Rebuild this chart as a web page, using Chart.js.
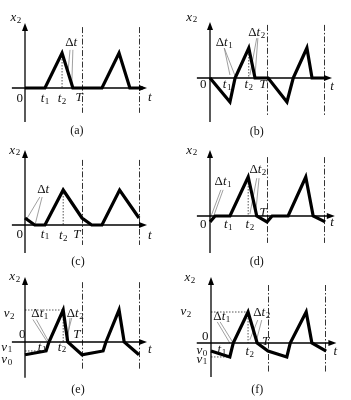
<!DOCTYPE html>
<html>
<head>
<meta charset="utf-8">
<script src="https://cdn.jsdelivr.net/npm/chart.js@4.4.1/dist/chart.umd.min.js"></script>
<style>
  body { margin: 0; background: #fff; }
  #wrap { position: relative; width: 351px; height: 400px; }
  #wrap canvas { position: absolute; }
</style>
</head>
<body>
<div id="wrap"></div>
<script>
// waveforms: t in periods T, x2 normalised to the peak value
const tA = [0, 0.35, 0.65, 0.84, 1.35, 1.65, 1.84, 2.07];
const xA = [0, 0, 1, 0, 0, 1, 0, 0];
const tB = [0, 0.35, 0.44, 0.68, 0.79, 1.02, 1.35, 1.46, 1.70, 1.79, 2.02];
const xB = [0, -0.8, 0, 1, 0, 0, -0.8, 0, 1, 0, 0];
const tC = [0, 0.17, 0.35, 0.67, 1.0, 1.17, 1.35, 1.66, 2.0];
const xC = [0.2, 0, 0, 1, 0.2, 0, 0, 1, 0.2];
const tD = [0, 0.09, 0.35, 0.67, 0.82, 1.0, 1.09, 1.37, 1.68, 1.81, 2.02];
const xD = [-0.15, 0, 0, 1, 0, -0.15, 0, 0, 1, 0, -0.15];
const tE = [0, 0.37, 0.42, 0.67, 0.75, 1.0, 1.37, 1.42, 1.65, 1.74, 2.0];
const xE = [-0.4, -0.28, 0, 1, 0, -0.4, -0.28, 0, 1, 0, -0.4];
const tF = [0, 0.33, 0.39, 0.65, 0.81, 1.0, 1.33, 1.39, 1.67, 1.77, 2.02];
const xF = [-0.26, -0.45, 0, 1, 0, -0.26, -0.45, 0, 1, 0, -0.26];

const captions = ["(a)", "(b)", "(c)", "(d)", "(e)", "(f)"];
const periodMarks = [1, 2];

// text labels: [main, subscript, t, x2]
const labelsA = [["x","2",-0.16,2.0],["0","",-0.09,-0.29],["t","1",0.35,-0.29],["t","2",0.65,-0.29],
  ["T","",0.95,-0.26],["t","",2.19,-0.26],["Δt","",0.81,1.29]];
const labelsB = [["x","2",-0.32,2.03],["0","",-0.12,-0.23],["t","1",0.30,-0.23],["t","2",0.68,-0.23],
  ["T","",0.93,-0.23],["t","",2.14,-0.3],["Δt","1",0.25,1.17],["Δt","2",0.82,1.5]];
const labelsC = [["x","2",-0.18,2.14],["0","",-0.09,-0.26],["t","1",0.35,-0.26],["t","2",0.67,-0.29],
  ["T","",0.91,-0.26],["t","",2.19,-0.29],["Δt","",0.32,1.0]];
const labelsD = [["x","2",-0.32,1.69],["0","",-0.12,-0.23],["t","1",0.32,-0.23],["t","2",0.70,-0.23],
  ["T","",0.93,0.1],["t","",2.14,-0.18],["Δt","1",0.23,0.87],["Δt","2",0.84,1.18]];
const labelsE = [["x","2",-0.18,2.03],["v","2",-0.28,0.88],["Δt","1",0.26,0.88],["Δt","2",0.88,0.88],
  ["0","",-0.05,0.22],["v","1",-0.32,-0.16],["v","0",-0.32,-0.56],["t","1",0.30,-0.16],
  ["t","2",0.65,-0.16],["T","",0.91,0.22],["t","",2.19,-0.25]];
const labelsF = [["x","2",-0.37,2.1],["v","2",-0.44,1.0],["Δt","1",0.19,0.84],["Δt","2",0.89,0.97],
  ["0","",-0.1,0.2],["v","0",-0.16,-0.26],["v","1",-0.16,-0.52],["t","1",0.19,-0.2],
  ["t","2",0.68,-0.29],["T","",0.96,0.03],["t","",2.18,-0.29]];

// dotted guides and thin leader lines: [t1, x1, t2, x2]
const dotsA = [[0.65,1,0.65,0]];
const dotsB = [[0.68,1,0.68,0]];
const dotsC = [[0.67,1,0.67,0]];
const dotsD = [[0.67,1,0.67,0]];
const dotsE = [[0.67,1,0.67,0],[0,1,0.67,1],[0,-0.28,0.37,-0.28]];
const dotsF = [[0.65,1,0.65,0],[0,1,0.65,1],[0,-0.45,0.33,-0.45]];
const leadA = [[0.79,1.09,0.75,0.37],[0.84,1.09,0.82,0.06]];
const leadB = [[0.25,1.0,0.35,0.1],[0.25,1.0,0.44,0.07],[0.82,1.33,0.70,0.1],[0.84,1.33,0.79,0.07]];
const leadC = [[0.26,0.8,0.04,0.2],[0.3,0.8,0.18,0.03]];
const leadD = [[0.19,0.67,0.02,0.0],[0.23,0.67,0.07,0.02],[0.82,0.97,0.70,0.05],[0.86,0.97,0.80,0.05]];
const leadE = [[0.14,0.7,0.38,0.03],[0.2,0.7,0.41,0.03],[0.79,0.75,0.75,0.12],[0.82,0.75,0.72,0.06]];
const leadF = [[0.11,0.68,0.33,0.0],[0.16,0.68,0.39,0.0],[0.82,0.74,0.68,0.1],[0.89,0.74,0.79,0.03]];

// panel geometry (pixels): box, origin, px per period, px per unit x2, axis ends
const panels = [
  { t: tA, x: xA, labels: labelsA, dots: dotsA, lead: leadA, box: [0, 0, 175, 138], org: [25, 88], T: 57, U: 35,
    yAx: [1.86, -0.97], tAx: [-0.23, 2.14], dash: [1.74, -0.71], cap: [0.91, -1.23] },
  { t: tB, x: xB, labels: labelsB, dots: dotsB, lead: leadB, box: [175, 0, 176, 138], org: [210, 78], T: 57, U: 30,
    yAx: [1.87, -1.47], tAx: [-0.23, 2.14], dash: [1.77, -1.23], cap: [0.82, -1.8] },
  { t: tC, x: xC, labels: labelsC, dots: dotsC, lead: leadC, box: [0, 135, 175, 136], org: [25, 225], T: 57, U: 35,
    yAx: [2.14, -0.8], tAx: [-0.23, 2.14], dash: [1.86, -0.57], cap: [0.93, -1.06] },
  { t: tD, x: xD, labels: labelsD, dots: dotsD, lead: leadD, box: [175, 135, 176, 136], org: [210, 216], T: 57, U: 39,
    yAx: [1.69, -0.95], tAx: [-0.23, 2.19], dash: [1.51, -0.69], cap: [0.82, -1.18] },
  { t: tE, x: xE, labels: labelsE, dots: dotsE, lead: leadE, box: [0, 265, 175, 135], org: [25, 342], T: 57, U: 32,
    yAx: [2.03, -1.12], tAx: [-0.23, 2.14], dash: [1.87, -0.87], cap: [0.93, -1.5] },
  { t: tF, x: xF, labels: labelsF, dots: dotsF, lead: leadF, box: [175, 265, 176, 135], org: [211, 343], T: 57, U: 31,
    yAx: [2.13, -1.1], tAx: [-0.25, 2.2], dash: [1.87, -0.94], cap: [0.81, -1.52] }
];

const SERIF = '"Liberation Serif", "DejaVu Serif", serif';

function drawLabel(ctx, main, sub, px, py) {
  let pre = '';
  if (main.startsWith('Δ')) { pre = 'Δ'; main = main.slice(1); }
  const italic = main !== '0';
  ctx.font = '13px ' + SERIF;
  const wPre = ctx.measureText(pre).width;
  ctx.font = (italic ? 'italic ' : '') + '13px ' + SERIF;
  const wMain = ctx.measureText(main).width;
  ctx.font = '9px ' + SERIF;
  const wSub = sub ? ctx.measureText(sub).width + 0.5 : 0;
  let x = px - (wPre + wMain + wSub) / 2;
  ctx.textBaseline = 'middle';
  ctx.textAlign = 'left';
  if (pre) { ctx.font = '13px ' + SERIF; ctx.fillText(pre, x, py); x += wPre; }
  ctx.font = (italic ? 'italic ' : '') + '13px ' + SERIF;
  ctx.fillText(main, x, py); x += wMain + 0.5;
  if (sub) { ctx.font = '9px ' + SERIF; ctx.fillText(sub, x, py + 3); }
}

const sketch = {
  id: 'sketch',
  beforeDatasetsDraw(chart) {
    const p = chart.options.plugins.sketch;
    const X = v => chart.scales.x.getPixelForValue(v);
    const Y = v => chart.scales.y.getPixelForValue(v);
    const ctx = chart.ctx;
    const seg = (a, b, c, d) => { ctx.beginPath(); ctx.moveTo(a, b); ctx.lineTo(c, d); ctx.stroke(); };
    ctx.save();
    // period lines (dash-dot)
    ctx.strokeStyle = '#333'; ctx.lineWidth = 1; ctx.setLineDash([6, 2, 1.5, 2]);
    periodMarks.forEach(k => seg(Math.round(X(k)) + 0.5, Y(p.dash[0]), Math.round(X(k)) + 0.5, Y(p.dash[1])));
    // dotted guides
    ctx.strokeStyle = '#555'; ctx.setLineDash([1.5, 1.5]);
    p.dots.forEach(d => seg(X(d[0]), Y(d[1]), X(d[2]), Y(d[3])));
    // leader lines
    ctx.setLineDash([]); ctx.strokeStyle = '#888'; ctx.lineWidth = 0.8;
    p.lead.forEach(d => seg(X(d[0]), Y(d[1]), X(d[2]), Y(d[3])));
    // axes with arrows
    ctx.strokeStyle = '#000'; ctx.fillStyle = '#000'; ctx.lineWidth = 1.3;
    const x0 = X(0), y0 = Y(0);
    const top = Y(p.yAx[0]), right = X(p.tAx[1]);
    seg(x0, top + 4, x0, Y(p.yAx[1]));
    seg(X(p.tAx[0]), y0, right - 4, y0);
    ctx.beginPath(); ctx.moveTo(x0, top); ctx.lineTo(x0 - 3, top + 8); ctx.lineTo(x0 + 3, top + 8); ctx.closePath(); ctx.fill();
    ctx.beginPath(); ctx.moveTo(right, y0); ctx.lineTo(right - 8, y0 - 3); ctx.lineTo(right - 8, y0 + 3); ctx.closePath(); ctx.fill();
    ctx.restore();
  },
  afterDatasetsDraw(chart) {
    const p = chart.options.plugins.sketch;
    const X = v => chart.scales.x.getPixelForValue(v);
    const Y = v => chart.scales.y.getPixelForValue(v);
    const ctx = chart.ctx;
    ctx.save();
    ctx.fillStyle = '#111';
    p.labels.forEach(l => drawLabel(ctx, l[0], l[1], X(l[2]), Y(l[3])));
    ctx.font = '12px ' + SERIF; ctx.textAlign = 'center'; ctx.textBaseline = 'middle';
    ctx.fillText(p.caption, X(p.cap[0]), Y(p.cap[1]));
    ctx.restore();
  }
};

const wrap = document.getElementById('wrap');
panels.forEach((p, i) => {
  const [left, top, w, h] = p.box;
  const cv = document.createElement('canvas');
  cv.width = w; cv.height = h;
  cv.style.left = left + 'px'; cv.style.top = top + 'px';
  cv.style.width = w + 'px'; cv.style.height = h + 'px';
  wrap.appendChild(cv);

  new Chart(cv.getContext('2d'), {
    type: 'line',
    data: {
      datasets: [{
        data: p.t.map((t, k) => ({ x: t, y: p.x[k] })),
        borderColor: '#000', borderWidth: 3.2, pointRadius: 0, tension: 0,
        borderJoinStyle: 'miter', fill: false
      }]
    },
    options: {
      responsive: false, animation: false, devicePixelRatio: 1,
      layout: { padding: 0 },
      scales: {
        x: { type: 'linear', display: false,
             min: -(p.org[0] - left) / p.T, max: (left + w - p.org[0]) / p.T },
        y: { type: 'linear', display: false,
             min: -(top + h - p.org[1]) / p.U, max: (p.org[1] - top) / p.U }
      },
      plugins: {
        legend: { display: false }, tooltip: { enabled: false },
        sketch: { labels: p.labels, dots: p.dots, lead: p.lead, yAx: p.yAx, tAx: p.tAx,
                  dash: p.dash, cap: p.cap, caption: captions[i] }
      }
    },
    plugins: [sketch]
  });
});
</script>
</body>
</html>
